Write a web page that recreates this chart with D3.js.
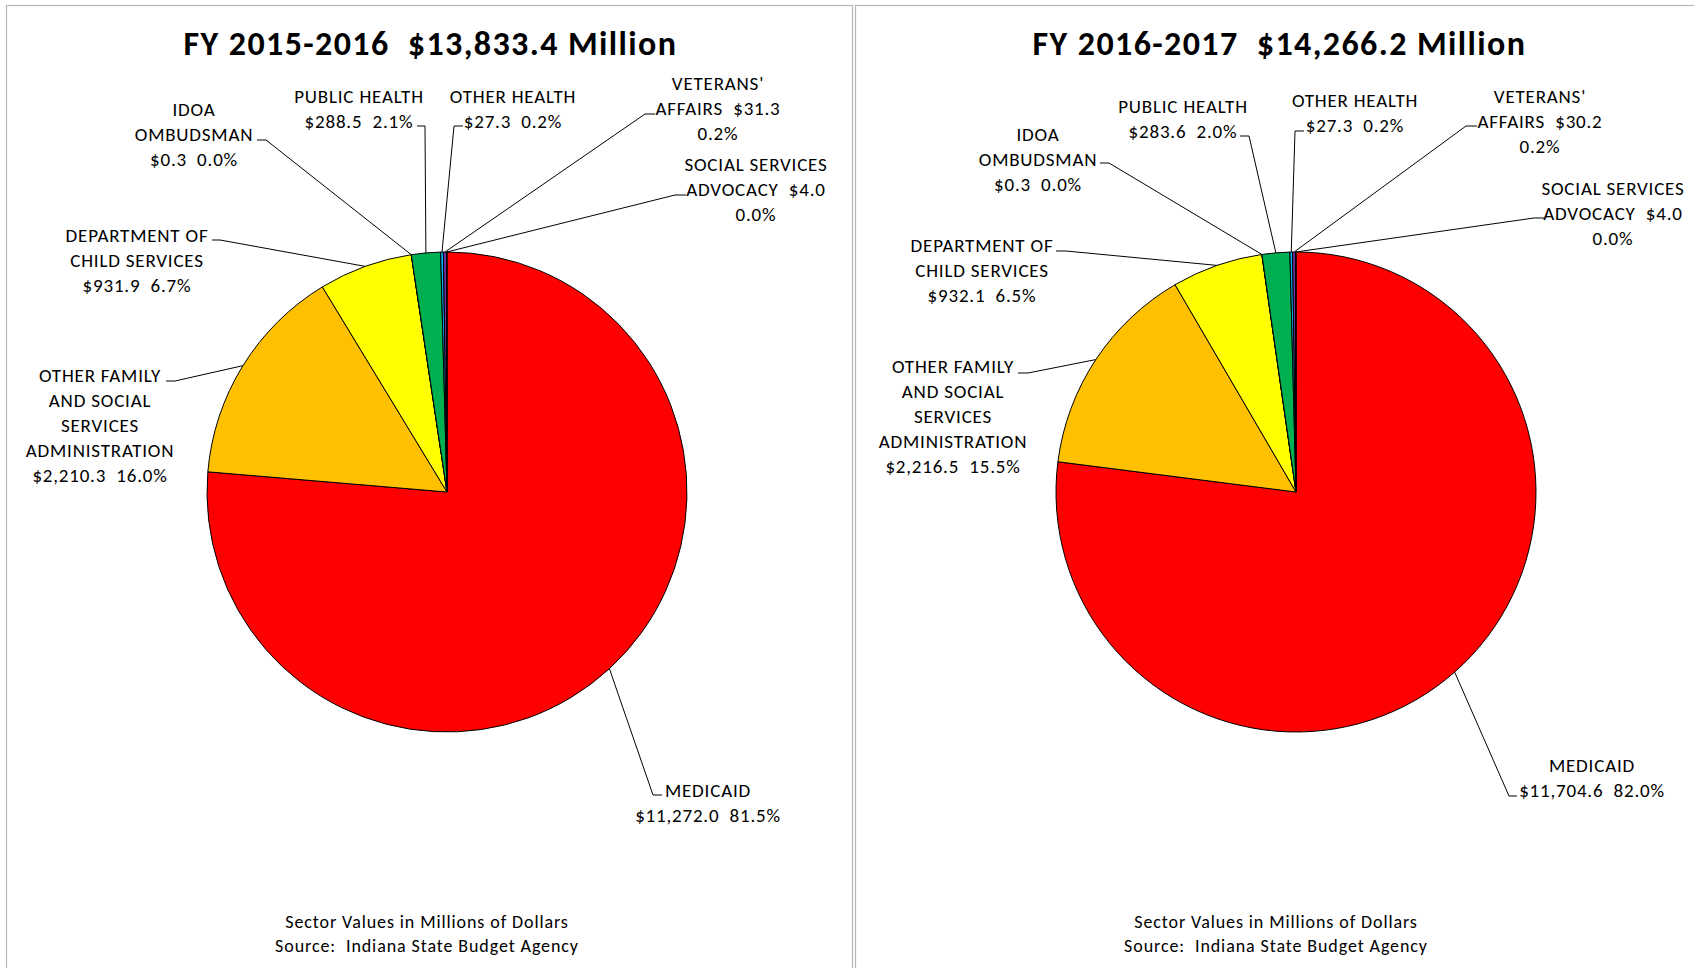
<!DOCTYPE html>
<html>
<head>
<meta charset="utf-8">
<script src="https://cdn.jsdelivr.net/npm/d3@7"></script>
<style>
  html, body { margin: 0; padding: 0; background: #fff; }
  svg text { font-family: Carlito, Calibri, Lato, sans-serif; white-space: pre; fill: #000; }
</style>
</head>
<body>
<svg id="chart" width="1694" height="968"></svg>
<script>
// Health and human services spending by sector, in millions of dollars
const fiscalYears = ["FY 2015-2016", "FY 2016-2017"];
const totals = [13833.4, 14266.2];

const categories = [
  "MEDICAID",
  "OTHER FAMILY AND SOCIAL SERVICES ADMINISTRATION",
  "DEPARTMENT OF CHILD SERVICES",
  "IDOA OMBUDSMAN",
  "PUBLIC HEALTH",
  "OTHER HEALTH",
  "VETERANS' AFFAIRS",
  "SOCIAL SERVICES ADVOCACY"
];
const values2016 = [11272.0, 2210.3, 931.9, 0.3, 288.5, 27.3, 31.3, 4.0];
const values2017 = [11704.6, 2216.5, 932.1, 0.3, 283.6, 27.3, 30.2, 4.0];

// How each category name wraps in its label
const nameLines = [
  ["MEDICAID"],
  ["OTHER FAMILY", "AND SOCIAL", "SERVICES", "ADMINISTRATION"],
  ["DEPARTMENT OF", "CHILD SERVICES"],
  ["IDOA", "OMBUDSMAN"],
  ["PUBLIC HEALTH"],
  ["OTHER HEALTH"],
  ["VETERANS'", "AFFAIRS"],
  ["SOCIAL SERVICES", "ADVOCACY"]
];
// Value sits on the last name line, percentage wraps below
const valueOnNameLine = [false, false, false, false, false, false, true, true];

const sliceColors = ["#FF0000", "#FFC000", "#FFFF00", "#C00000", "#00B050", "#00B0F0", "#7030A0", "#002060"];

const footerLines = ["Sector Values in Millions of Dollars", "Source:  Indiana State Budget Agency"];

// Label placement relative to the pie centre: text centre x, first line y,
// leader elbow and leader end (where the short horizontal tick meets the text)
const labelLayouts = [
  [
    { cx: 261, y0: 298, elbow: [206, 303], tick: [215, 303] },
    { cx: -347, y0: -117, elbow: [-272, -111], tick: [-281, -111] },
    { cx: -310, y0: -257, elbow: [-227, -252], tick: [-235, -252] },
    { cx: -253, y0: -383, elbow: [-181, -352], tick: [-190, -352] },
    { cx: -88, y0: -396, elbow: [-22, -366], tick: [-30, -366] },
    { cx: 66, y0: -396, elbow: [7, -366], tick: [16, -366] },
    { cx: 271, y0: -409, elbow: [198, -378], tick: [208, -378] },
    { cx: 309, y0: -328, elbow: [228, -297], tick: [239, -297] }
  ],
  [
    { cx: 296, y0: 273, elbow: [213, 304], tick: [221, 304] },
    { cx: -343, y0: -126, elbow: [-268, -119], tick: [-278, -119] },
    { cx: -314, y0: -247, elbow: [-230, -241], tick: [-240, -241] },
    { cx: -258, y0: -358, elbow: [-187, -329], tick: [-196, -329] },
    { cx: -113, y0: -386, elbow: [-47, -356], tick: [-56, -356] },
    { cx: 59, y0: -392, elbow: [-1, -361], tick: [8, -361] },
    { cx: 244, y0: -396, elbow: [170, -366], tick: [181, -366] },
    { cx: 317, y0: -304, elbow: [238, -274], tick: [249, -274] }
  ]
];

const W = 1694, H = 968;
const panelW = 846, panelH = 1000;
const panelX = [6.5, 855.5], panelY = 5.5;
const pieOffset = [440.5, 486.5];
const radius = 240;
const lineGap = 25;
const labelSize = 19;

const fmtMoney = v => "$" + d3.format(",.1f")(v);
const fmtPct = v => d3.format(".1f")(v) + "%";

const svg = d3.select("#chart");
svg.append("rect").attr("width", W).attr("height", H).attr("fill", "#fff");

const pie = d3.pie().sort(null).value(d => d).startAngle(0).endAngle(2 * Math.PI);
const arc = d3.arc().innerRadius(0).outerRadius(radius);

[values2016, values2017].forEach((vals, ci) => {
  const g = svg.append("g");
  const px = panelX[ci];

  g.append("rect")
    .attr("x", px).attr("y", panelY)
    .attr("width", panelW).attr("height", panelH)
    .attr("fill", "#fff").attr("stroke", "#b8b8b8").attr("stroke-width", 1.2);

  const cx = px + pieOffset[0], cy = panelY + pieOffset[1];

  g.append("text")
    .attr("x", px + panelW / 2 + 1).attr("y", 55)
    .attr("text-anchor", "middle")
    .attr("font-size", 34).attr("font-weight", "bold")
    .attr("letter-spacing", 1.4)
    .text(fiscalYears[ci] + "  " + fmtMoney(totals[ci]) + " Million");

  const pg = g.append("g").attr("transform", `translate(${cx},${cy})`);
  const arcs = pie(vals);

  pg.selectAll("path.slice")
    .data(arcs)
    .join("path")
    .attr("class", "slice")
    .attr("d", arc)
    .attr("fill", (d, i) => sliceColors[i])
    .attr("stroke", "#000")
    .attr("stroke-width", 1)
    .attr("stroke-linejoin", "round");

  // leader lines from each slice edge to its label
  arcs.forEach((a, i) => {
    const mid = (a.startAngle + a.endAngle) / 2;
    const p = [radius * Math.sin(mid), -radius * Math.cos(mid)];
    const L = labelLayouts[ci][i];
    pg.append("path")
      .attr("d", d3.line()([p, L.elbow, L.tick]))
      .attr("fill", "none")
      .attr("stroke", "#000")
      .attr("stroke-width", 1);

    const lines = nameLines[i].slice();
    const money = fmtMoney(vals[i]);
    const pct = fmtPct(vals[i] / totals[ci] * 100);
    if (valueOnNameLine[i]) {
      lines[lines.length - 1] += "  " + money;
      lines.push(pct);
    } else {
      lines.push(money + "  " + pct);
    }
    const t = pg.append("text")
      .attr("text-anchor", "middle")
      .attr("font-size", labelSize)
      .attr("letter-spacing", 0.8);
    lines.forEach((ln, k) => {
      t.append("tspan")
        .attr("x", L.cx)
        .attr("y", L.y0 + k * lineGap + 6.8)
        .text(ln);
    });
  });

  footerLines.forEach((ln, k) => {
    g.append("text")
      .attr("x", px + panelW / 2 - 2.5)
      .attr("y", 928 + k * 24)
      .attr("text-anchor", "middle")
      .attr("font-size", 18)
      .attr("letter-spacing", 0.9)
      .text(ln);
  });
});
</script>
</body>
</html>
